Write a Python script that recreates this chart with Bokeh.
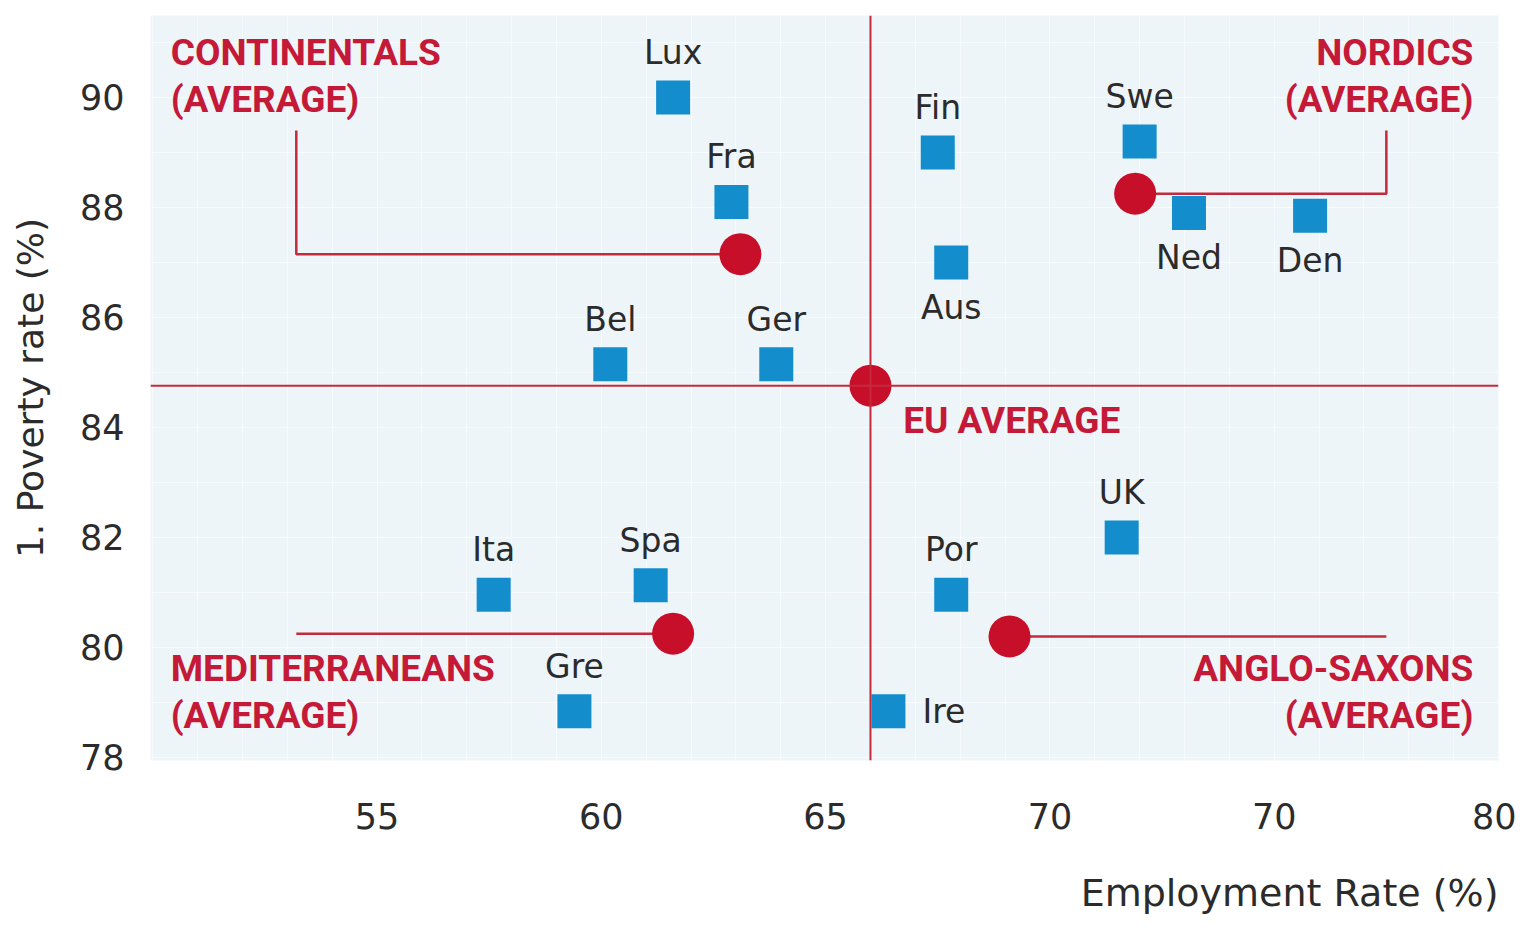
from bokeh.plotting import figure
from bokeh.models import ColumnDataSource, FixedTicker, SingleIntervalTicker, Span, Title, Range1d
from bokeh.core.properties import value
from bokeh.embed import file_html
from bokeh.resources import INLINE

# ---------------- data ----------------
countries = ["Lux", "Fra", "Bel", "Ger", "Fin", "Aus", "Swe", "Ned", "Den",
             "UK", "Por", "Ire", "Ita", "Spa", "Gre"]
employment = [61.6, 62.9, 60.2, 63.9, 67.5, 67.8, 72.0, 73.1, 75.8,
              71.6, 67.8, 66.4, 57.6, 61.1, 59.4]
poverty = [90.0, 88.1, 85.15, 85.15, 89.0, 87.0, 89.2, 87.9, 87.85,
           82.0, 80.96, 78.84, 80.96, 81.13, 78.84]
label_side = ["above", "above", "above", "above", "above", "below", "above", "below", "below",
              "above", "above", "right", "above", "above", "above"]

groups = ["CONTINENTALS", "NORDICS", "MEDITERRANEANS", "ANGLO-SAXONS"]
group_employment = [63.1, 71.9, 61.6, 69.1]
group_poverty = [87.15, 88.25, 80.25, 80.2]

eu_label = "EU AVERAGE"
eu_employment = 66.0
eu_poverty = 84.76

x_ticks = [55, 60, 65, 70, 75, 80]
x_tick_labels = ["55", "60", "65", "70", "70", "80"]
y_ticks = [78, 80, 82, 84, 86, 88, 90]

x_title = "Employment Rate (%)"
y_title = "1. Poverty rate (%)"

# ---------------- style ----------------
BLUE = "#138dcc"
RED = "#c80f2a"
LINE_RED = "#c42a3c"
TEXT_RED = "#c41a38"
DARK = "#2b2b2b"
BG = "#edf5f9"

p = figure(width=1516, height=930, output_backend="svg", toolbar_location=None,
           x_range=Range1d(49.95, 80.0), y_range=Range1d(77.945, 91.49),
           min_border_left=150, min_border_right=18, min_border_top=15, min_border_bottom=170)
p.outline_line_color = None
p.background_fill_color = BG
p.border_fill_color = "white"

# grid
p.xgrid.ticker = SingleIntervalTicker(interval=1)
p.ygrid.ticker = SingleIntervalTicker(interval=1)
p.xgrid.grid_line_color = "#f8fbfd"
p.ygrid.grid_line_color = "#f8fbfd"

# axes
for ax in (p.xaxis[0], p.yaxis[0]):
    ax.axis_line_color = None
    ax.major_tick_line_color = None
    ax.minor_tick_line_color = None
    ax.major_label_text_font = "DejaVu Sans"
    ax.major_label_text_font_size = "35px"
    ax.major_label_text_color = DARK
p.xaxis.ticker = FixedTicker(ticks=x_ticks)
p.xaxis.major_label_overrides = {t: l for t, l in zip(x_ticks, x_tick_labels)}
p.xaxis.major_label_standoff = 36
p.yaxis.ticker = FixedTicker(ticks=y_ticks)
p.yaxis.major_label_standoff = 20
p.yaxis.axis_label = y_title
p.yaxis.axis_label_text_font = "DejaVu Sans"
p.yaxis.axis_label_text_font_style = "normal"
p.yaxis.axis_label_text_font_size = "36px"
p.yaxis.axis_label_text_color = DARK
p.yaxis.axis_label_standoff = 26

# x-axis title, right aligned under the axis (a blank spacer title pushes it down)
p.add_layout(Title(text=" ", text_font_size="18px", standoff=0), "below")
p.add_layout(Title(text=x_title, align="right", text_font="DejaVu Sans",
                   text_font_style="normal", text_font_size="38px",
                   text_color=DARK, standoff=30), "below")

# EU average reference lines
p.add_layout(Span(location=eu_employment, dimension="height", line_color=LINE_RED, line_width=2))
p.add_layout(Span(location=eu_poverty, dimension="width", line_color=LINE_RED, line_width=2))

# leader lines from the group averages to their labels
x_left, x_right, y_top = 53.2, 77.5, 89.4
lead_xs, lead_ys = [], []
for g, gx, gy in zip(groups, group_employment, group_poverty):
    if g == "CONTINENTALS":
        lead_xs.append([gx, x_left, x_left]); lead_ys.append([gy, gy, y_top])
    elif g == "NORDICS":
        lead_xs.append([gx, x_right, x_right]); lead_ys.append([gy, gy, y_top])
    elif g == "MEDITERRANEANS":
        lead_xs.append([gx, x_left]); lead_ys.append([gy, gy])
    else:
        lead_xs.append([gx, x_right]); lead_ys.append([gy, gy])
p.multi_line(lead_xs, lead_ys, line_color=LINE_RED, line_width=2.5)

# country squares
off = {"above": (0, -45), "below": (0, 45), "right": (34, 0)}
src = ColumnDataSource(dict(
    x=employment, y=poverty, name=countries,
    xo=[off[s][0] for s in label_side], yo=[off[s][1] for s in label_side],
    align=["left" if s == "right" else "center" for s in label_side],
))
p.scatter("x", "y", source=src, marker="square", size=34, fill_color=BLUE, line_color=None)
p.text("x", "y", text="name", source=src, x_offset="xo", y_offset="yo",
       text_align="align", text_baseline="middle",
       text_font=value("DejaVu Sans"), text_font_size="33px", text_color=DARK)

# average circles
p.scatter(group_employment + [eu_employment], group_poverty + [eu_poverty],
          marker="circle", size=42, fill_color=RED, line_color=None)

# group labels
lab_x = {"CONTINENTALS": 50.4, "NORDICS": 79.44, "MEDITERRANEANS": 50.4, "ANGLO-SAXONS": 79.44}
lab_y = {"CONTINENTALS": 90.82, "NORDICS": 90.82, "MEDITERRANEANS": 79.62, "ANGLO-SAXONS": 79.62}
lab_al = {"CONTINENTALS": "left", "NORDICS": "right", "MEDITERRANEANS": "left", "ANGLO-SAXONS": "right"}
tx, ty, tt, ta = [], [], [], []
for g in groups:
    for i, line in enumerate([g, "(AVERAGE)"]):
        tx.append(lab_x[g]); ty.append(lab_y[g] - i * 0.85); tt.append(line); ta.append(lab_al[g])
tx.append(66.73); ty.append(84.13); tt.append(eu_label); ta.append("left")
gsrc = ColumnDataSource(dict(x=tx, y=ty, t=tt, a=ta))
p.text("x", "y", text="t", source=gsrc, text_align="a", text_baseline="middle",
       text_font=value("Roboto"), text_font_style="bold",
       text_font_size="37px", text_color=TEXT_RED)

open("out.html", "w").write(file_html(p, INLINE))
